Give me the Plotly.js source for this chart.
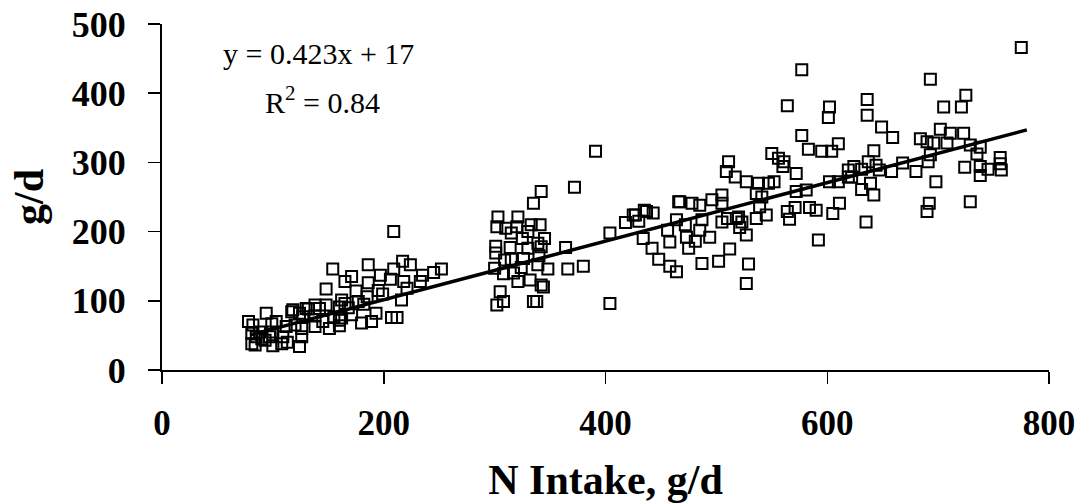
<!DOCTYPE html>
<html>
<head>
<meta charset="utf-8">
<script src="https://cdn.plot.ly/plotly-3.0.1.min.js"></script>
<style>html,body{margin:0;padding:0;background:#fff;}#chart{width:1075px;height:503px;}</style>
</head>
<body>
<div id="chart"></div>
<script>
// N intake (g/d) and output (g/d), grouped by intake level
var intakeLow = [78,82,81,81,85,84,88,93,94,97,99,100,100,103,108,109,112,117,118,124,124,126,126,127,130,132,138,138,138,142,148,148,151,154,155,160,160,162,162,165,165,171,171,175,177,180,185,186,186,189,193,197,199,206,207,209,209,212,216,217,218,221,224,233,235,245,252,160,90,113,120,145,168,182,195];
var outputLow = [70,65,53,38,48,36,55,43,82,48,67,55,35,70,38,48,63,84,87,82,34,60,48,77,89,88,94,78,63,89,117,94,60,146,77,64,72,101,75,96,128,135,80,114,99,68,106,152,126,70,82,137,110,131,76,200,146,76,101,157,128,118,152,128,137,141,146,91,45,40,65,70,90,95,115];

var intakeMid = [300,301,301,302,303,302,305,308,308,309,314,315,317,320,321,321,324,326,330,330,332,335,335,338,339,339,341,342,342,342,344,348,364,366,372,380,391,404,404,325,333,345,315,340,310];
var outputMid = [147,179,169,207,221,94,113,99,139,159,177,198,140,207,221,128,148,161,200,176,130,241,99,99,183,152,210,258,178,123,120,146,177,146,264,150,316,198,96,190,210,190,160,165,205];

var intakeHigh = [418,425,427,430,434,435,437,443,442,448,456,458,458,464,464,466,467,472,473,475,478,481,485,485,487,487,494,496,502,505,505,505,510,512,509,511,517,518,521,523,520,527,527,529,527,536,541,539,536,538,545,547,550,552,556,560,561,564,564,566,571,572,572,577,577,581,583,584,590,592,595];
var outputHigh = [213,224,224,215,190,231,229,227,176,160,202,150,185,142,217,243,243,210,192,176,241,186,238,202,217,154,192,246,157,253,241,214,219,175,287,301,279,219,206,214,221,195,272,153,125,255,250,236,219,270,224,270,313,272,306,294,301,382,229,218,235,284,258,434,339,260,319,235,231,188,316];

var intakeTop = [601,602,602,604,605,610,610,611,619,619,622,624,631,631,635,636,636,637,639,642,642,644,647,649,658,659,668,680,684,690,690,691,692,693,693,696,698,702,705,708,711,721,723,724,725,729,729,735,738,738,738,745,756,756,757,775];
var outputTop = [365,380,272,316,226,272,327,241,289,279,279,294,261,290,214,391,368,301,270,253,317,296,289,351,287,336,299,287,334,330,229,301,241,311,420,328,272,348,380,328,342,380,342,293,397,325,243,312,322,294,281,290,307,298,289,466];

// regression shown on the chart
var slope = 0.423;
var intercept = 17;
var trendX = [80, 780];
var xTicks = [0, 200, 400, 600, 800];
var yTicks = [0, 100, 200, 300, 400, 500];

var allX = intakeLow.concat(intakeMid, intakeHigh, intakeTop);
var allY = outputLow.concat(outputMid, outputHigh, outputTop);
var trendY = trendX.map(function(v){ return slope * v + intercept; });

var FONT = '"Liberation Serif", "Times New Roman", serif';

var traces = [
  {
    x: allX, y: allY, type: 'scatter', mode: 'markers',
    marker: {symbol: 'square-open', size: 11, color: '#000', line: {width: 2, color: '#000'}},
    hoverinfo: 'x+y', showlegend: false, cliponaxis: false
  },
  {
    x: trendX, y: trendY, type: 'scatter', mode: 'lines',
    line: {color: '#000', width: 3.5}, showlegend: false
  }
];

var layout = {
  width: 1075, height: 503,
  margin: {l: 162, r: 26, t: 24, b: 133},
  paper_bgcolor: '#fff', plot_bgcolor: '#fff',
  showlegend: false,
  xaxis: {
    range: [0, 800], tickvals: xTicks, ticktext: xTicks.map(String),
    showgrid: false, zeroline: false, showline: true, linecolor: '#000', linewidth: 2,
    ticks: 'outside', ticklen: 12, tickwidth: 1.5, tickcolor: '#000',
    ticklabelstandoff: 9, ticklabeloverflow: 'allow', automargin: false,
    tickfont: {family: FONT, size: 35, color: '#000', weight: 'bold'},
    title: {text: 'N Intake, g/d', font: {family: FONT, size: 42, color: '#000', weight: 'bold'}, standoff: 29}
  },
  yaxis: {
    range: [0, 500], tickvals: yTicks, ticktext: yTicks.map(String),
    showgrid: false, zeroline: false, showline: true, linecolor: '#000', linewidth: 2,
    ticks: 'outside', ticklen: 12, tickwidth: 1.5, tickcolor: '#000',
    ticklabelstandoff: 15, automargin: false,
    tickfont: {family: FONT, size: 36, color: '#000', weight: 'bold'},
    title: {text: 'g/d', font: {family: FONT, size: 42, color: '#000', weight: 'bold'}, standoff: 15}
  },
  annotations: [
    {xref: 'paper', yref: 'paper', x: 0.176, y: 0.915, xanchor: 'center', yanchor: 'middle',
     text: 'y = 0.423x + 17', showarrow: false, font: {family: FONT, size: 30, color: '#000'}},
    {xref: 'paper', yref: 'paper', x: 0.1815, y: 0.78, xanchor: 'center', yanchor: 'middle',
     text: 'R<sup>2</sup> = 0.84', showarrow: false, font: {family: FONT, size: 30, color: '#000'}}
  ]
};

Plotly.newPlot('chart', traces, layout, {displayModeBar: false, staticPlot: true});
</script>
</body>
</html>
